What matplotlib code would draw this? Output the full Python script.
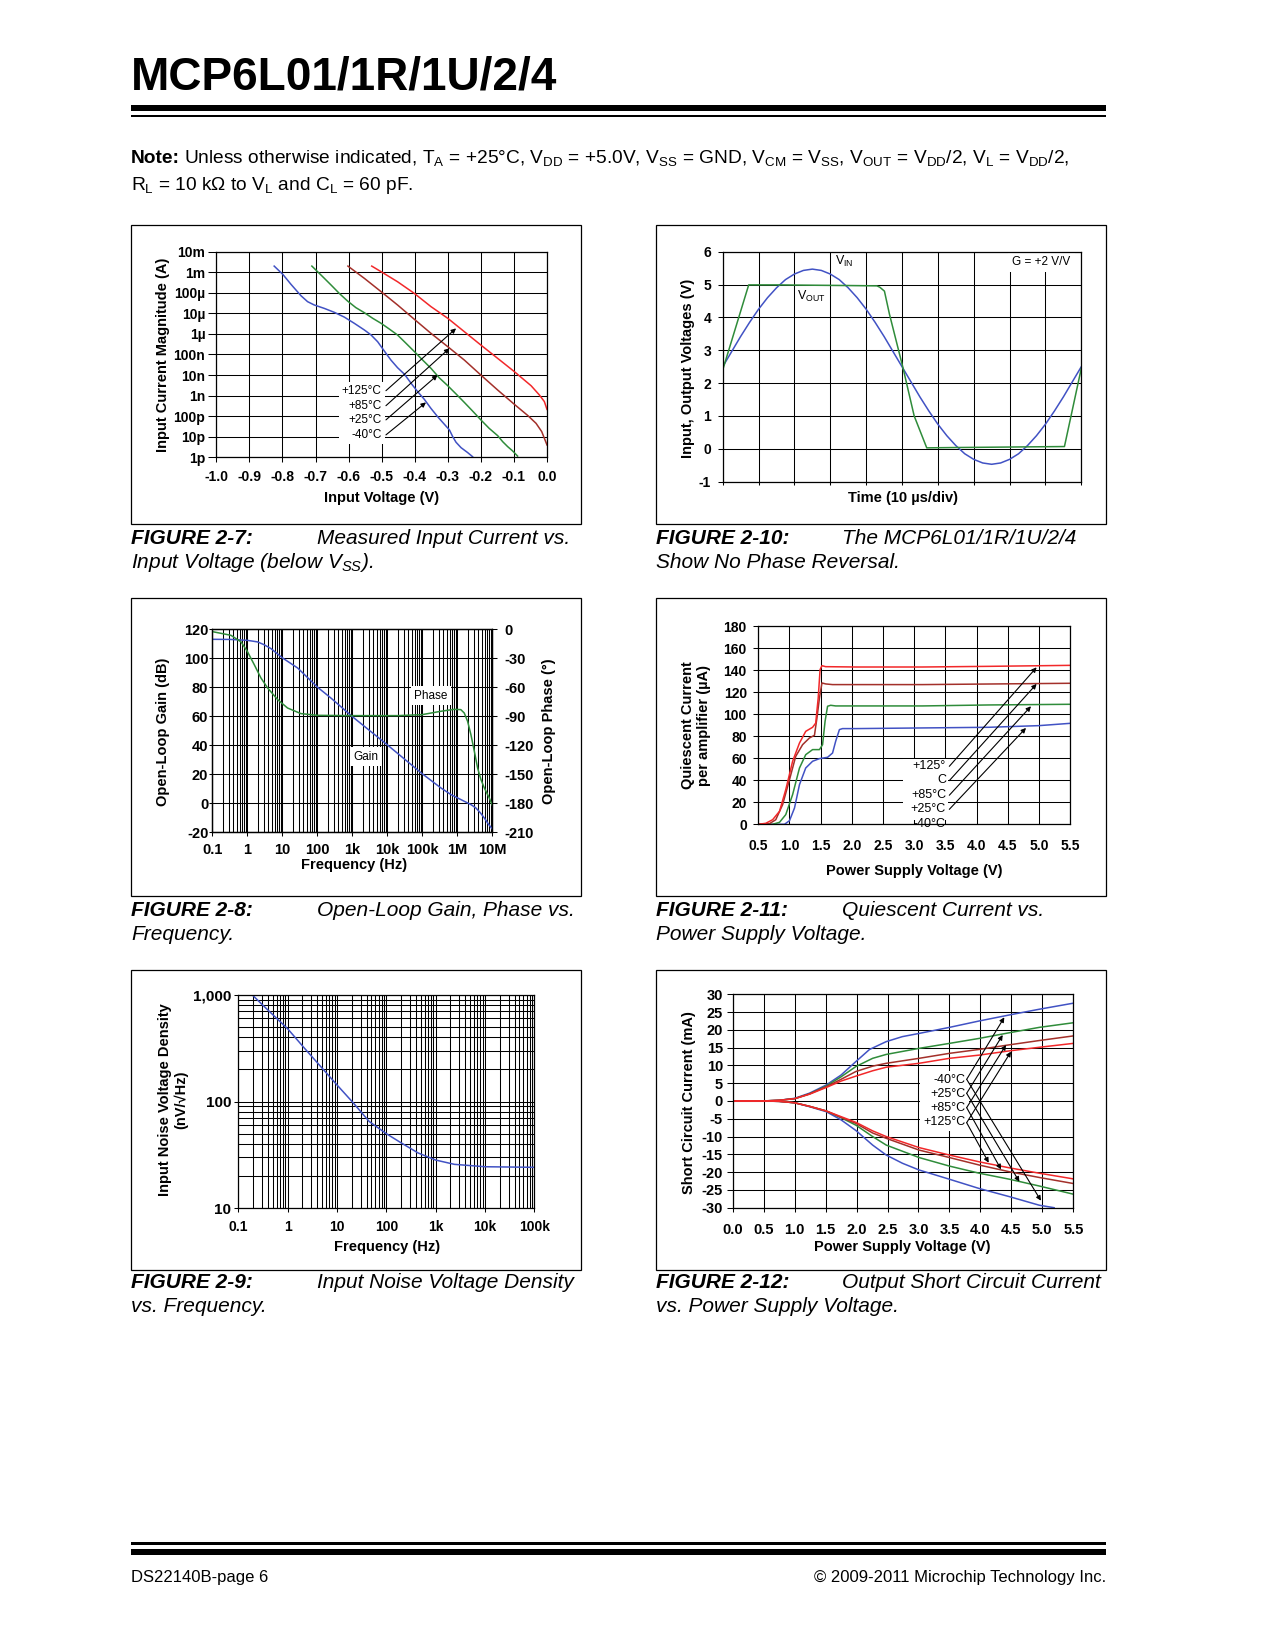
import numpy as np
import matplotlib
matplotlib.use('Agg')
import matplotlib.pyplot as plt
from matplotlib import font_manager as fm
from matplotlib.patches import Rectangle
from matplotlib.ticker import LogLocator, NullLocator, NullFormatter

plt.rcParams['font.family'] = ['Liberation Sans', 'DejaVu Sans']
plt.rcParams['mathtext.default'] = 'regular'
plt.rcParams['axes.unicode_minus'] = False
plt.rcParams['axes.linewidth'] = 0.9

# ------------------------------------------------------------------ data
# FIGURE 2-7: input current (log10 A) vs input voltage (V)
fig7_xticklabels = ['-1.0', '-0.9', '-0.8', '-0.7', '-0.6', '-0.5', '-0.4', '-0.3', '-0.2', '-0.1', '0.0']
fig7_ytick_exp = [-12, -11, -10, -9, -8, -7, -6, -5, -4, -3, -2]
fig7_yticklabels = ['1p', '10p', '100p', '1n', '10n', '100n', '1µ', '10µ', '100µ', '1m', '10m']
fig7_temps = ['+125°C', '+85°C', '+25°C', '-40°C']
m40_v = [-0.825, -0.799, -0.774, -0.744, -0.724, -0.704, -0.673, -0.643, -0.613, -0.583, -0.552, -0.532,
         -0.512, -0.492, -0.472, -0.452, -0.431, -0.411, -0.391, -0.371, -0.351, -0.331, -0.310, -0.295,
         -0.285, -0.275, -0.260, -0.240, -0.225]
m40_logi = [-2.70, -3.10, -3.59, -4.14, -4.43, -4.59, -4.76, -4.95, -5.18, -5.48, -5.81, -6.05, -6.38,
            -6.83, -7.27, -7.64, -7.96, -8.40, -8.81, -9.18, -9.62, -10.02, -10.40, -10.67, -11.00,
            -11.27, -11.53, -11.77, -11.97]
p25_v = [-0.711, -0.678, -0.653, -0.628, -0.603, -0.578, -0.552, -0.527, -0.502, -0.477, -0.452, -0.426,
         -0.401, -0.376, -0.351, -0.326, -0.300, -0.275, -0.250, -0.225, -0.200, -0.175, -0.149, -0.134,
         -0.119, -0.104, -0.089]
p25_logi = [-2.70, -3.22, -3.62, -4.03, -4.40, -4.72, -4.97, -5.24, -5.48, -5.76, -6.05, -6.46, -6.86,
            -7.27, -7.67, -8.13, -8.52, -8.92, -9.33, -9.75, -10.18, -10.59, -10.95, -11.24, -11.48,
            -11.69, -11.94]
p85_v = [-0.602, -0.552, -0.502, -0.452, -0.401, -0.351, -0.300, -0.250, -0.200, -0.149, -0.099, -0.058,
         -0.033, -0.016, 0.0]
p85_logi = [-2.70, -3.30, -3.94, -4.59, -5.29, -5.97, -6.62, -7.27, -8.00, -8.73, -9.42, -9.97, -10.35,
            -10.75, -11.40]
p125_v = [-0.530, -0.502, -0.452, -0.401, -0.351, -0.300, -0.250, -0.200, -0.149, -0.099, -0.048, -0.023,
          -0.008, 0.0]
p125_logi = [-2.70, -2.97, -3.46, -4.03, -4.67, -5.24, -5.89, -6.54, -7.19, -7.83, -8.52, -8.97, -9.29, -9.67]

# FIGURE 2-10: phase reversal (time in divisions, volts)
fig10_yticklabels = ['-1', '0', '1', '2', '3', '4', '5', '6']
vin_t = [0.0, 0.25, 0.5, 0.75, 1.0, 1.25, 1.5, 1.75, 2.0, 2.25, 2.5, 2.75, 3.0, 3.25, 3.5, 3.75, 4.0,
         4.25, 4.5, 4.75, 5.0, 5.25, 5.5, 5.75, 6.0, 6.25, 6.5, 6.75, 7.0, 7.25, 7.5, 7.75, 8.0, 8.25,
         8.5, 8.75, 9.0, 9.25, 9.5, 9.75, 10.0]
vin_v = [2.50, 2.96, 3.42, 3.85, 4.25, 4.60, 4.90, 5.15, 5.32, 5.43, 5.47, 5.43, 5.32, 5.15, 4.90, 4.60,
         4.25, 3.85, 3.42, 2.96, 2.50, 2.04, 1.58, 1.15, 0.75, 0.40, 0.10, -0.15, -0.32, -0.43, -0.47,
         -0.43, -0.32, -0.15, 0.10, 0.40, 0.75, 1.15, 1.58, 2.04, 2.50]
vout_t = [0.0, 0.725, 1.5, 2.5, 3.5, 4.30, 4.38, 4.51, 4.65, 5.02, 5.34, 5.69, 6.5, 7.5, 8.5, 9.53, 10.0]
vout_v = [2.40, 4.99, 4.99, 4.98, 4.97, 4.96, 4.92, 4.80, 4.10, 2.50, 1.00, 0.03, 0.04, 0.05, 0.06, 0.07, 2.45]

# FIGURE 2-8: open-loop gain / phase
fig8_xticklabels = ['0.1', '1', '10', '100', '1k', '10k', '100k', '1M', '10M']
fig8_xticks = [0.1, 1, 10, 100, 1e3, 1e4, 1e5, 1e6, 1e7]
fig8_gain_ticks = [-20, 0, 20, 40, 60, 80, 100, 120]
fig8_phase_ticks = [-210, -180, -150, -120, -90, -60, -30, 0]
gain_f = [0.1, 0.34, 1, 1.97, 3.0, 4.74, 10.2, 27.5, 100, 245, 977, 9.8e3, 9.8e4, 3.4e5, 6.6e5, 1.02e6,
          1.58e6, 2.45e6, 3.39e6, 4.6e6, 5.9e6, 7.7e6, 1e7]
gain_db = [113.1, 113.0, 112.4, 111.3, 109.4, 106.7, 100.2, 93.3, 80.2, 72.6, 60.0, 40.5, 20.5, 10.6, 6.0,
           3.7, 1.4, -0.9, -3.2, -6.7, -10.1, -14.3, -17.7]
phase_f = [0.1, 0.34, 0.66, 1.0, 1.58, 2.45, 3.8, 7.4, 14.1, 33.9, 100, 1000, 2.0e4, 9.8e4, 3.4e5, 8.1e5,
           1.26e6, 1.58e6, 1.97e6, 2.45e6, 3.06e6, 3.8e6, 4.74e6, 5.9e6, 8.2e6, 1e7]
phase_deg = [-2.4, -6.2, -13.0, -22.8, -36.6, -50.3, -60.7, -72.8, -81.4, -87.2, -89.0, -89.3, -89.3,
             -88.3, -84.8, -82.8, -83.1, -86.6, -95.2, -109.0, -126.0, -143.4, -155.5, -164.0, -174.5,
             -182.0]

# FIGURE 2-11: quiescent current (uA) vs supply (V)
fig11_xticklabels = ['0.5', '1.0', '1.5', '2.0', '2.5', '3.0', '3.5', '4.0', '4.5', '5.0', '5.5']
fig11_yticks = [0, 20, 40, 60, 80, 100, 120, 140, 160, 180]
fig11_labels = ['+125°', 'C', '+85°C', '+25°C', '-40°C']
iq125_v = [0.5, 0.62, 0.73, 0.84, 0.94, 1.05, 1.16, 1.26, 1.37, 1.42, 1.46, 1.49, 1.52, 1.58, 2.07, 3.13, 4.2, 5.5]
iq125 = [0, 0.9, 4.2, 11.8, 31.5, 57.3, 73.9, 84.5, 88.2, 92.0, 114.8, 140.6, 144.2, 143.3, 143.0, 143.0, 143.6, 144.5]
iq85_v = [0.5, 0.68, 0.78, 0.89, 1.0, 1.1, 1.21, 1.32, 1.40, 1.44, 1.48, 1.52, 1.58, 1.69, 3.13, 5.5]
iq85 = [0, 0.6, 4.2, 17.9, 40.6, 61.8, 72.4, 78.5, 80.9, 96.7, 114.8, 128.5, 127.6, 127.0, 127.0, 128.2]
iq25_v = [0.5, 0.73, 0.84, 0.94, 1.05, 1.16, 1.26, 1.37, 1.48, 1.53, 1.57, 1.61, 1.66, 1.74, 3.13, 4.2, 5.5]
iq25 = [0, 0, 1.8, 8.8, 27.0, 51.2, 63.3, 67.9, 67.9, 72.4, 93.6, 107.3, 108.2, 107.6, 107.6, 108.5, 109.1]
iqm40_v = [0.5, 0.92, 1.0, 1.08, 1.16, 1.26, 1.37, 1.48, 1.61, 1.69, 1.74, 1.80, 1.85, 2.07, 3.13, 4.2, 5.0, 5.5]
iqm40 = [0, 0, 3.3, 14.8, 36.1, 51.2, 57.3, 59.7, 60.9, 64.8, 75.5, 86.1, 87.0, 87.0, 87.6, 88.2, 89.7, 91.8]

# FIGURE 2-9: input noise voltage density
fig9_xticks = [0.1, 1, 10, 100, 1e3, 1e4, 1e5]
fig9_xticklabels = ['0.1', '1', '10', '100', '1k', '10k', '100k']
fig9_yticks = [10, 100, 1000]
fig9_yticklabels = ['10', '100', '1,000']
noise_f = [0.19, 0.34, 1, 2.2, 4.7, 10, 21, 45, 100, 200, 440, 1000, 2400, 10000, 100000]
noise_nv = [1000, 770, 480, 315, 212, 143, 98, 65, 50, 41, 33, 28.3, 25.8, 24.5, 24.2]

# FIGURE 2-12: short circuit current (mA) vs supply (V)
fig12_xticklabels = ['0.0', '0.5', '1.0', '1.5', '2.0', '2.5', '3.0', '3.5', '4.0', '4.5', '5.0', '5.5']
fig12_yticks = [-30, -25, -20, -15, -10, -5, 0, 5, 10, 15, 20, 25, 30]
fig12_temps = ['-40°C', '+25°C', '+85°C', '+125°C']
sc_m40_top_v = [0, 0.48, 0.75, 1.0, 1.24, 1.51, 1.75, 1.99, 2.21, 2.48, 2.74, 3.01, 3.50, 3.98, 4.47, 4.95, 5.5]
sc_m40_top = [0, 0, 0.2, 0.75, 2.2, 4.5, 7.3, 11.1, 14.5, 16.7, 18.1, 19.0, 20.7, 22.5, 24.2, 25.8, 27.5]
sc_m40_bot_v = [0, 0.48, 0.75, 1.0, 1.24, 1.51, 1.75, 1.99, 2.26, 2.48, 2.74, 3.01, 3.50, 3.98, 4.47, 4.95, 5.19]
sc_m40_bot = [0, 0, -0.1, -0.5, -1.6, -3.0, -5.3, -8.3, -12.4, -15.2, -17.5, -19.4, -22.0, -24.6, -26.9, -29.3, -30.0]
sc_v = [0, 0.48, 0.75, 1.0, 1.24, 1.51, 1.75, 1.99, 2.26, 2.48, 3.01, 3.50, 3.98, 4.47, 4.95, 5.5]
sc_p25_top = [0, 0, 0.2, 0.66, 2.0, 4.2, 6.8, 9.7, 12.0, 13.1, 14.8, 16.2, 17.6, 19.2, 20.7, 22.0]
sc_p85_top = [0, 0, 0.2, 0.66, 2.0, 4.0, 6.1, 8.3, 9.8, 10.6, 12.0, 13.4, 14.5, 15.8, 17.0, 18.3]
sc_p125_top = [0, 0, 0.2, 0.66, 1.9, 3.8, 5.6, 7.0, 8.5, 9.5, 10.6, 12.0, 12.9, 14.1, 15.1, 16.2]
sc_p25_bot = [0, 0, -0.1, -0.5, -1.5, -2.8, -4.7, -6.8, -10.0, -12.4, -15.9, -18.3, -20.3, -22.0, -23.9, -26.2]
sc_p85_bot = [0, 0, -0.1, -0.5, -1.5, -2.8, -4.6, -6.3, -9.0, -10.5, -13.8, -15.9, -18.0, -19.9, -21.5, -23.2]
sc_p125_bot = [0, 0, -0.1, -0.5, -1.5, -2.8, -4.4, -6.0, -8.4, -10.0, -13.1, -15.2, -17.1, -18.8, -20.3, -21.9]

# ------------------------------------------------------------------ styling
BLUE = '#4152C4'
GREEN = '#2F8C3A'
BROWN = '#A3302A'
RED = '#F2282A'
LW = 1.1
GRID_LW = 0.75

W, H = 1275, 1650
fig = plt.figure(figsize=(W / 100, H / 100), dpi=100)
PT = 0.72  # points per pixel

_names = {f.name for f in fm.fontManager.ttflist}
if 'Liberation Sans Narrow' in _names:
    TITLE_FAMILY, TITLE_SIZE = 'Liberation Sans Narrow', 39
else:
    TITLE_FAMILY, TITLE_SIZE = 'Liberation Sans', 33


def add_ax(x0, y0, x1, y1):
    return fig.add_axes([x0 / W, 1 - y1 / H, (x1 - x0) / W, (y1 - y0) / H])


def ftext(x, y, s, **kw):
    return fig.text(x / W, 1 - y / H, s, **kw)


def frect(x0, y0, x1, y1, fill=True, lw=0.0):
    r = Rectangle((x0 / W, 1 - y1 / H), (x1 - x0) / W, (y1 - y0) / H, transform=fig.transFigure,
                  facecolor='black' if fill else 'none', edgecolor='black', lw=lw, fill=fill)
    fig.add_artist(r)


def base_style(ax):
    for s in ax.spines.values():
        s.set_linewidth(0.9)
        s.set_color('black')
    ax.set_axisbelow(True)
    ax.grid(True, which='major', color='black', lw=GRID_LW)


def tick(ax, axis, length, pad, size):
    ax.tick_params(axis=axis, which='major', length=length * PT, pad=pad * PT, labelsize=size,
                   width=0.75, direction='out', colors='black')


def arrow(ax, start, end):
    ax.annotate('', xy=end, xytext=start,
                arrowprops=dict(arrowstyle='-|>', lw=0.8, color='black', mutation_scale=7,
                                shrinkA=0, shrinkB=0), zorder=3)


BOLD = dict(fontweight='bold')
ANN = 8.5
AXLAB = 10.5

# ------------------------------------------------------------------ page header / footer
ftext(131, 89, 'MCP6L01/1R/1U/2/4', fontsize=TITLE_SIZE, fontweight='bold',
      family=[TITLE_FAMILY, 'DejaVu Sans'], va='baseline')
frect(131, 105, 1106, 111)
frect(131, 115, 1106, 117)

renderer = fig.canvas.get_renderer()
tn = ftext(131, 163, 'Note:', fontsize=13.75, fontweight='bold', va='baseline')
bb = tn.get_window_extent(renderer)
ftext(bb.x1 + 4.5, 163,
      'Unless otherwise indicated, T$_{A}$ = +25°C, V$_{DD}$ = +5.0V, V$_{SS}$ = GND, V$_{CM}$ = V$_{SS}$, '
      'V$_{OUT}$ = V$_{DD}$/2, V$_{L}$ = V$_{DD}$/2,', fontsize=13.75, va='baseline')
ftext(131, 190, 'R$_{L}$ = 10 kΩ to V$_{L}$ and C$_{L}$ = 60 pF.', fontsize=13.75, va='baseline')

frect(131, 1542, 1106, 1545)
frect(131, 1549, 1106, 1555)
ftext(131, 1582, 'DS22140B-page 6', fontsize=12, va='baseline')
ftext(1106, 1582, '© 2009-2011 Microchip Technology Inc.', fontsize=12, va='baseline', ha='right')

# chart frames
for (x0, y0, x1, y1) in [(131, 225, 581, 524), (656, 225, 1106, 524),
                         (131, 598, 581, 896), (656, 598, 1106, 896),
                         (131, 970, 581, 1270), (656, 970, 1106, 1270)]:
    frect(x0, y0, x1, y1, fill=False, lw=0.9)


def caption(x, y, num, rest, line2):
    ftext(x, y, num, fontsize=15, fontweight='bold', fontstyle='italic', va='baseline')
    ftext(x + 186, y, rest, fontsize=15, fontstyle='italic', va='baseline')
    ftext(x, y + 24, line2, fontsize=15, fontstyle='italic', va='baseline')


caption(131, 544, 'FIGURE 2-7:', 'Measured Input Current vs.', 'Input Voltage (below V$_{SS}$).')
caption(656, 544, 'FIGURE 2-10:', 'The MCP6L01/1R/1U/2/4', 'Show No Phase Reversal.')
caption(131, 916, 'FIGURE 2-8:', 'Open-Loop Gain, Phase vs.', 'Frequency.')
caption(656, 916, 'FIGURE 2-11:', 'Quiescent Current vs.', 'Power Supply Voltage.')
caption(131, 1288, 'FIGURE 2-9:', 'Input Noise Voltage Density', 'vs. Frequency.')
caption(656, 1288, 'FIGURE 2-12:', 'Output Short Circuit Current', 'vs. Power Supply Voltage.')

# ------------------------------------------------------------------ FIGURE 2-7
ax = add_ax(216.3, 251.7, 547, 457.3)
base_style(ax)
ax.set_yscale('log')
ax.set_xlim(-1.0, 0.0)
ax.set_ylim(1e-12, 1e-2)
ax.set_xticks([float(s) for s in fig7_xticklabels], fig7_xticklabels, **BOLD)
ax.set_yticks([10.0 ** e for e in fig7_ytick_exp], fig7_yticklabels, **BOLD)
ax.yaxis.set_minor_locator(NullLocator())
ax.yaxis.set_minor_formatter(NullFormatter())
tick(ax, 'x', 5, 8, 10)
tick(ax, 'y', 8, 3, 10)
for v, li, c in [(m40_v, m40_logi, BLUE), (p25_v, p25_logi, GREEN),
                 (p85_v, p85_logi, BROWN), (p125_v, p125_logi, RED)]:
    ax.plot(v, 10.0 ** np.array(li), color=c, lw=LW, zorder=2)
ax.text(-0.500, 10 ** -9.836, '\n'.join(fig7_temps), ha='right', va='center', ma='right',
        fontsize=ANN, linespacing=1.28, zorder=2.4,
        bbox=dict(facecolor='white', edgecolor='none', pad=2.2))
for sy, end in zip([-8.76, -9.49, -10.18, -10.91],
                   [(-0.275, -5.73), (-0.295, -6.70), (-0.331, -8.00), (-0.366, -9.33)]):
    arrow(ax, (-0.487, 10 ** sy), (end[0], 10 ** end[1]))
ftext(163, 355, 'Input Current Magnitude (A)', rotation=90, ha='center', va='center',
      fontsize=AXLAB, **BOLD)
ftext(381.7, 497.7, 'Input Voltage (V)', ha='center', va='center', fontsize=AXLAB, **BOLD)

# ------------------------------------------------------------------ FIGURE 2-10
ax = add_ax(722.7, 251.7, 1081.3, 481.7)
base_style(ax)
ax.set_xlim(0, 10)
ax.set_ylim(-1, 6)
ax.set_xticks(vin_t[::4], [''] * len(vin_t[::4]))
ax.set_yticks([int(s) for s in fig10_yticklabels], fig10_yticklabels, **BOLD)
tick(ax, 'x', 3, 2, 10)
tick(ax, 'y', 5, 6.5, 10)
ax.plot(vin_t, vin_v, color=BLUE, lw=LW, zorder=2)
ax.plot(vout_t, vout_v, color=GREEN, lw=LW, zorder=2.1)
ax.text(3.39, 5.70, 'V$_{IN}$', ha='center', va='center', fontsize=ANN + 0.5)
ax.text(2.46, 4.63, 'V$_{OUT}$', ha='center', va='center', fontsize=ANN + 0.5)
ax.text(8.89, 5.70, 'G = +2 V/V', ha='center', va='center', fontsize=ANN, zorder=2.4,
        bbox=dict(facecolor='white', edgecolor='none', pad=3.5))
ftext(688, 368, 'Input, Output Voltages (V)', rotation=90, ha='center', va='center',
      fontsize=AXLAB, **BOLD)
ftext(902.7, 497.7, 'Time (10 µs/div)', ha='center', va='center', fontsize=AXLAB, **BOLD)

# ------------------------------------------------------------------ FIGURE 2-8
ax = add_ax(212.3, 629.3, 492.3, 832.3)
base_style(ax)
ax.set_xscale('log')
ax.set_xlim(0.1, 1e7)
ax.set_ylim(-20, 120)
ax.set_xticks(fig8_xticks, fig8_xticklabels, **BOLD)
ax.xaxis.set_minor_locator(LogLocator(base=10, subs=np.arange(2, 10), numticks=100))
ax.xaxis.set_minor_formatter(NullFormatter())
ax.tick_params(axis='x', which='minor', length=0)
ax.grid(True, which='minor', axis='x', color='black', lw=GRID_LW)
ax.set_yticks(fig8_gain_ticks, [str(t) for t in fig8_gain_ticks], **BOLD)
tick(ax, 'x', 4, 7, 10.5)
tick(ax, 'y', 3, 1, 10.5)
ax.plot(gain_f, gain_db, color=BLUE, lw=LW, zorder=2)
ax.text(1.77e5, 74.3, 'Phase', ha='center', va='center', fontsize=ANN, zorder=2.4,
        bbox=dict(facecolor='white', edgecolor='none', pad=2.5))
ax.text(2.46e3, 32.2, 'Gain', ha='center', va='center', fontsize=ANN, zorder=2.4,
        bbox=dict(facecolor='white', edgecolor='none', pad=2.5))
axb = ax.twinx()
axb.set_ylim(-210, 0)
axb.set_yticks(fig8_phase_ticks, [str(t) for t in fig8_phase_ticks], **BOLD)
for s in axb.spines.values():
    s.set_linewidth(0.9)
tick(axb, 'y', 5, 7, 10.5)
axb.plot(phase_f, phase_deg, color=GREEN, lw=LW, zorder=2)
ftext(163, 732, 'Open-Loop Gain (dB)', rotation=90, ha='center', va='center', fontsize=AXLAB, **BOLD)
ftext(549, 731, 'Open-Loop Phase (°)', rotation=90, ha='center', va='center', fontsize=AXLAB, **BOLD)
ftext(354, 864.7, 'Frequency (Hz)', ha='center', va='center', fontsize=AXLAB, **BOLD)

# ------------------------------------------------------------------ FIGURE 2-11
ax = add_ax(758.3, 626.3, 1070.3, 824.3)
base_style(ax)
ax.set_xlim(0.5, 5.5)
ax.set_ylim(0, 180)
ax.set_xticks([float(s) for s in fig11_xticklabels], fig11_xticklabels, **BOLD)
ax.set_yticks(fig11_yticks, [str(t) for t in fig11_yticks], **BOLD)
tick(ax, 'x', 0, 15, 10)
tick(ax, 'y', 5.5, 6, 10)
for v, i, c in [(iqm40_v, iqm40, BLUE), (iq25_v, iq25, GREEN), (iq85_v, iq85, BROWN), (iq125_v, iq125, RED)]:
    ax.plot(v, i, color=c, lw=LW, zorder=2)
box = Rectangle((2.82, 4.0), 0.72, 55.3, facecolor='white', edgecolor='none', zorder=2.3)
ax.add_patch(box)
t = ax.text(3.508, 26.8, '\n'.join(fig11_labels), ha='right', va='center', ma='right',
            fontsize=ANN + 0.5, linespacing=1.28, zorder=2.4)
t.set_clip_path(box)
for sy, end in zip([52.7, 39.7, 26.4, 13.6], [(4.96, 142.7), (4.96, 127.6), (4.87, 107.3), (4.79, 87.6)]):
    arrow(ax, (3.561, sy), end)
ftext(696, 725, 'Quiescent Current\nper amplifier (µA)', rotation=90, ha='center', va='center',
      ma='center', fontsize=AXLAB, linespacing=1.15, **BOLD)
ftext(914, 871, 'Power Supply Voltage (V)', ha='center', va='center', fontsize=AXLAB, **BOLD)

# ------------------------------------------------------------------ FIGURE 2-9
ax = add_ax(238.3, 994.7, 534.3, 1208.3)
base_style(ax)
ax.set_xscale('log')
ax.set_yscale('log')
ax.set_xlim(0.1, 1e5)
ax.set_ylim(10, 1000)
ax.set_xticks(fig9_xticks, fig9_xticklabels, **BOLD)
ax.set_yticks(fig9_yticks, fig9_yticklabels, **BOLD)
for a in (ax.xaxis, ax.yaxis):
    a.set_minor_locator(LogLocator(base=10, subs=np.arange(2, 10), numticks=100))
    a.set_minor_formatter(NullFormatter())
ax.tick_params(which='minor', length=0)
ax.grid(True, which='minor', color='black', lw=GRID_LW)
tick(ax, 'x', 4, 7.5, 10)
tick(ax, 'y', 4, 3, 11)
ax.plot(noise_f, noise_nv, color=BLUE, lw=LW, zorder=2)
ftext(173, 1100, 'Input Noise Voltage Density\n(nV/√Hz)', rotation=90, ha='center', va='center',
      ma='center', fontsize=AXLAB, linespacing=1.1, **BOLD)
ftext(387, 1246.7, 'Frequency (Hz)', ha='center', va='center', fontsize=AXLAB, **BOLD)

# ------------------------------------------------------------------ FIGURE 2-12
ax = add_ax(732.7, 994.3, 1073.3, 1207.7)
base_style(ax)
ax.set_xlim(0, 5.5)
ax.set_ylim(-30, 30)
ax.set_xticks([float(s) for s in fig12_xticklabels], fig12_xticklabels, **BOLD)
ax.set_yticks(fig12_yticks, [str(t) for t in fig12_yticks], **BOLD)
tick(ax, 'x', 4, 11, 10.5)
tick(ax, 'y', 6.5, 3.3, 10.5)
ax.plot(sc_m40_top_v, sc_m40_top, color=BLUE, lw=LW, zorder=2)
ax.plot(sc_m40_bot_v, sc_m40_bot, color=BLUE, lw=LW, zorder=2)
for top, bot, c in [(sc_p25_top, sc_p25_bot, GREEN), (sc_p85_top, sc_p85_bot, BROWN),
                    (sc_p125_top, sc_p125_bot, RED)]:
    ax.plot(sc_v, top, color=c, lw=LW, zorder=2)
    ax.plot(sc_v, bot, color=c, lw=LW, zorder=2)
ax.text(3.757, 0.0, '\n'.join(fig12_temps), ha='right', va='center', ma='right', fontsize=ANN + 0.5,
        linespacing=1.2, zorder=2.4, bbox=dict(facecolor='white', edgecolor='none', pad=2.5))
starts = [6.09, 2.16, -1.87, -6.09]
ups = [(4.386, 23.53), (4.36, 18.56), (4.413, 15.75), (4.494, 13.875)]
downs = [(4.978, -28.03), (4.629, -22.69), (4.333, -19.22), (4.134, -17.34)]
for sy, u, d in zip(starts, ups, downs):
    arrow(ax, (3.778, sy), u)
    arrow(ax, (3.778, sy), d)
ftext(689, 1103, 'Short Circuit Current (mA)', rotation=90, ha='center', va='center',
      fontsize=AXLAB, **BOLD)
ftext(902, 1247, 'Power Supply Voltage (V)', ha='center', va='center', fontsize=AXLAB, **BOLD)

fig.savefig('out.png', dpi=100)
